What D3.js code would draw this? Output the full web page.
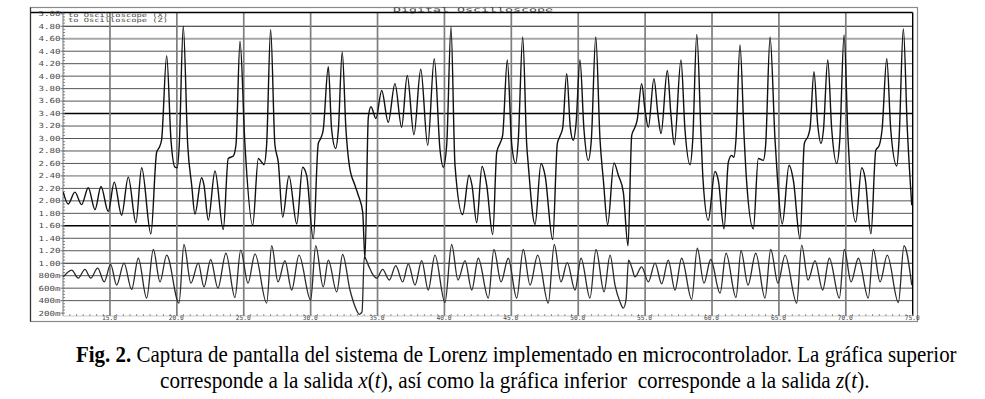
<!DOCTYPE html>
<html>
<head>
<meta charset="utf-8">
<script src="https://cdn.jsdelivr.net/npm/d3@7"></script>
<style>
  html, body { margin: 0; padding: 0; background: #fff; }
  svg { display: block; }
  .tiny { font-family: "DejaVu Sans Mono", monospace; fill: #4a4a4a; }
  .cap { font-family: "Liberation Serif", "Times New Roman", serif; fill: #000; white-space: pre; }
</style>
</head>
<body>
<svg id="chart" width="985" height="399"></svg>
<script>
/* Digital oscilloscope capture of the Lorenz system: x(t) on top, z(t) below. */

const T_START = 11.49, T_END = 75;
const xTicks = [15, 20, 25, 30, 35, 40, 45, 50, 55, 60, 65, 70, 75];
const xTickLabels = ["15.0", "20.0", "25.0", "30.0", "35.0", "40.0", "45.0", "50.0", "55.0", "60.0", "65.0", "70.0", "75.0"];
const yTicks = [5.0, 4.8, 4.6, 4.4, 4.2, 4.0, 3.8, 3.6, 3.4, 3.2, 3.0, 2.8, 2.6, 2.4, 2.2, 2.0, 1.8, 1.6, 1.4, 1.2, 1.0, 0.8, 0.6, 0.4, 0.2];
const yTickLabels = ["5.00", "4.80", "4.60", "4.40", "4.20", "4.00", "3.80", "3.60", "3.40", "3.20", "3.00", "2.80", "2.60", "2.40", "2.20", "2.00", "1.80", "1.60", "1.40", "1.20", "1.00", "800m", "600m", "400m", "200m"];
const seriesNames = ["to Oscilloscope (X)", "to Oscilloscope (Z)"];

// x(t) channel
const xT = [
  11.51, 11.88, 12.38, 12.88, 13.38, 13.88, 14.33, 14.87, 15.32, 15.87,
  16.37, 16.94, 17.37, 18.06, 18.49, 18.69, 18.86, 19.24, 19.56, 19.86,
  20.03, 20.18, 20.48, 20.81, 21.11, 21.35, 21.85, 22.03, 22.35, 22.85,
  23.47, 23.84, 24.22, 24.42, 24.72, 25.09, 25.67, 26.09, 26.34, 26.51,
  26.71, 27.01, 27.33, 27.58, 27.91, 28.38, 28.96, 29.40, 29.70, 30.20,
  30.57, 30.75, 30.94, 31.32, 31.57, 31.87, 32.07, 32.36, 32.64, 32.89,
  33.31, 33.56, 33.89, 34.06, 34.31, 34.51, 34.88, 35.31, 35.80, 36.30,
  36.80, 37.22, 37.72, 38.23, 38.75, 39.24, 39.67, 39.91, 40.17, 40.49,
  40.79, 41.36, 41.84, 42.06, 42.41, 42.81, 43.16, 43.61, 43.91, 44.15,
  44.35, 44.70, 45.03, 45.33, 45.52, 45.85, 46.15, 46.27, 46.77, 47.22,
  47.52, 48.09, 48.44, 48.64, 48.84, 49.14, 49.41, 49.63, 49.83, 50.13,
  50.43, 50.75, 50.98, 51.31, 51.63, 51.88, 52.20, 52.67, 53.00, 53.37,
  53.72, 54.00, 54.24, 54.41, 54.74, 54.99, 55.24, 55.66, 55.96, 56.19,
  56.66, 56.93, 57.18, 57.68, 57.98, 58.36, 58.56, 58.86, 59.18, 59.33,
  59.72, 60.22, 60.47, 60.90, 61.22, 61.47, 61.64, 61.79, 62.09, 62.41,
  62.58, 63.09, 63.46, 63.83, 64.01, 64.34, 64.71, 64.90, 65.25, 65.76,
  66.08, 66.58, 66.90, 67.20, 67.33, 67.62, 67.90, 68.15, 68.33, 68.65,
  68.95, 69.32, 69.55, 69.87, 70.17, 70.34, 70.74, 71.19, 71.44, 71.88,
  72.24, 72.50, 72.71, 73.06, 73.36, 73.81, 73.98, 74.30, 74.60, 74.93
];
const xV = [
  2.14, 1.95, 2.14, 1.94, 2.21, 1.86, 2.23, 1.83, 2.30, 1.77,
  2.38, 1.65, 2.53, 1.47, 2.78, 2.86, 2.98, 4.33, 2.98, 2.54,
  2.53, 2.90, 4.80, 2.90, 2.25, 1.79, 2.37, 2.25, 1.69, 2.48,
  1.54, 2.68, 2.72, 2.90, 4.56, 2.90, 1.61, 2.68, 2.62, 2.58,
  2.90, 4.75, 2.90, 2.62, 1.74, 2.40, 1.63, 2.54, 2.41, 1.39,
  2.92, 3.00, 3.14, 4.15, 3.14, 2.84, 3.14, 4.39, 3.14, 2.57,
  2.25, 2.09, 1.82, 1.07, 3.34, 3.51, 3.32, 3.77, 3.26, 3.88,
  3.18, 4.01, 3.06, 4.11, 2.89, 4.28, 2.82, 2.54, 2.90, 4.79,
  2.57, 1.78, 2.41, 2.25, 1.65, 2.55, 2.25, 1.46, 2.78, 2.92,
  3.05, 4.26, 2.90, 2.60, 2.98, 4.63, 2.90, 2.57, 1.62, 2.60,
  2.41, 1.38, 2.92, 3.04, 3.17, 4.04, 3.17, 2.97, 3.22, 4.26,
  3.14, 2.65, 2.98, 4.63, 2.98, 2.33, 1.62, 2.61, 2.41, 2.14,
  1.28, 3.05, 3.18, 3.30, 3.88, 3.46, 3.18, 3.96, 3.38, 3.08,
  4.09, 3.38, 2.90, 4.26, 3.14, 2.58, 2.98, 4.67, 3.05, 2.33,
  1.69, 2.47, 2.33, 1.55, 2.62, 2.73, 2.70, 2.98, 4.50, 2.98,
  2.33, 1.55, 2.68, 2.65, 2.90, 4.63, 2.98, 2.33, 1.63, 2.57,
  2.33, 1.39, 2.92, 3.05, 3.17, 4.07, 3.22, 2.92, 3.14, 4.26,
  3.14, 2.60, 2.98, 4.66, 2.98, 2.33, 1.66, 2.53, 2.37, 1.47,
  2.81, 2.89, 3.14, 4.28, 3.14, 2.56, 2.98, 4.76, 3.14, 1.93
];

// z(t) channel
const zT = [
  11.51, 12.14, 12.63, 13.13, 13.56, 14.08, 14.57, 15.05, 15.50, 16.05,
  16.62, 17.12, 17.74, 18.24, 18.74, 19.24, 20.16, 20.53, 21.05, 21.60,
  22.03, 22.53, 23.07, 23.67, 24.34, 24.77, 25.32, 25.84, 26.71, 27.09,
  27.56, 28.08, 28.58, 29.13, 30.00, 30.38, 30.94, 31.32, 31.95, 32.39,
  32.94, 33.31, 33.64, 33.84, 34.01, 34.31, 34.68, 34.94, 35.38, 35.88,
  36.36, 36.88, 37.30, 37.80, 38.30, 38.79, 39.29, 40.04, 40.54, 41.01,
  41.54, 42.04, 42.53, 43.28, 43.70, 44.23, 44.77, 45.40, 45.89, 46.40,
  46.97, 47.76, 48.21, 48.71, 49.18, 49.76, 50.21, 50.88, 51.33, 51.93,
  52.38, 52.75, 53.12, 53.37, 53.57, 53.76, 54.02, 54.24, 54.74, 55.24,
  55.74, 56.24, 56.73, 57.23, 57.73, 58.48, 58.90, 59.40, 59.90, 60.60,
  61.05, 61.79, 62.17, 62.69, 63.27, 63.96, 64.39, 64.93, 65.46, 66.33,
  66.70, 67.18, 67.70, 68.27, 68.77, 69.52, 69.89, 70.39, 70.94, 71.68,
  72.06, 72.56, 73.10, 73.93, 74.35, 74.93
];
const zV = [
  0.78, 0.89, 0.76, 0.90, 0.76, 0.92, 0.70, 0.98, 0.65, 1.00,
  0.58, 1.08, 0.44, 1.22, 0.70, 1.13, 0.36, 1.30, 0.68, 1.00,
  0.62, 1.06, 0.60, 1.16, 0.45, 1.21, 0.68, 1.15, 0.36, 1.28,
  0.70, 1.04, 0.57, 1.13, 0.41, 1.28, 0.62, 1.05, 0.54, 1.14,
  0.57, 0.31, 0.18, 0.22, 1.10, 0.97, 0.81, 0.76, 0.90, 0.73,
  0.96, 0.70, 0.99, 0.65, 1.04, 0.57, 1.13, 0.37, 1.30, 0.73,
  1.04, 0.57, 1.08, 0.44, 1.22, 0.70, 1.08, 0.44, 1.22, 0.65,
  1.13, 0.36, 1.30, 0.70, 1.01, 0.57, 1.08, 0.44, 1.22, 0.54,
  1.13, 0.65, 0.38, 0.28, 0.41, 1.05, 0.92, 0.78, 0.94, 0.70,
  1.00, 0.67, 1.05, 0.57, 1.08, 0.42, 1.24, 0.68, 1.06, 0.52,
  1.16, 0.45, 1.20, 0.65, 1.16, 0.44, 1.22, 0.68, 1.13, 0.36,
  1.29, 0.73, 1.04, 0.57, 1.08, 0.44, 1.22, 0.70, 1.08, 0.44,
  1.22, 0.70, 1.13, 0.37, 1.28, 0.65
];

const W = 985, H = 399;
const P = { l: 63, r: 912.7, t: 12.5, b: 316 };   // plot box inside the scope window
const F = { l: 30.5, r: 917.5, t: 7.5, b: 321.5 }; // window frame

const svg = d3.select("#chart");
svg.append("rect").attr("width", W).attr("height", H).attr("fill", "#fff");

const x = d3.scaleLinear().domain([T_START, T_END]).range([P.l, P.r]);
const y = d3.scaleLinear().domain([0.2, 5.0]).range([313.1, 13.8]);

// window frame + title
svg.append("rect").attr("x", F.l).attr("y", F.t).attr("width", F.r - F.l).attr("height", F.b - F.t)
  .attr("fill", "none").attr("stroke", "#8a8a8a").attr("stroke-width", 1.2);
svg.append("text").attr("class", "tiny").attr("x", 393).attr("y", 11.8)
  .attr("textLength", 160).attr("lengthAdjust", "spacingAndGlyphs")
  .style("font-size", "6.5px").text("Digital Oscilloscope");

// horizontal grid (a few lines render darker / lighter in the capture)
const hStyle = v => {
  const k = Math.round(v * 10);
  if (k === 34 || k === 16) return ["#000", 1.4];
  if (k === 48 || k === 10) return ["#222", 1.1];
  if (k === 46 || k === 24) return ["#a8a8a8", 1.8];
  return ["#555", 1];
};
svg.append("g").selectAll("line").data(yTicks.filter(v => v > 0.3 && v < 4.9)).join("line")
  .attr("x1", P.l).attr("x2", P.r).attr("y1", d => y(d)).attr("y2", d => y(d))
  .attr("stroke", d => hStyle(d)[0]).attr("stroke-width", d => hStyle(d)[1]);

// vertical grid
svg.append("g").selectAll("line").data(xTicks.filter(t => t < T_END)).join("line")
  .attr("x1", d => x(d)).attr("x2", d => x(d)).attr("y1", P.t).attr("y2", P.b)
  .attr("stroke", "#7e7e7e").attr("stroke-width", 1.7);

// plot borders
svg.append("line").attr("x1", F.l).attr("x2", P.r).attr("y1", P.t).attr("y2", P.t)
  .attr("stroke", "#000").attr("stroke-width", 1.6);
svg.append("line").attr("x1", P.r).attr("x2", P.r).attr("y1", P.t).attr("y2", P.b)
  .attr("stroke", "#000").attr("stroke-width", 1.4);
svg.append("line").attr("x1", F.l).attr("x2", F.l).attr("y1", F.t).attr("y2", F.b)
  .attr("stroke", "#333").attr("stroke-width", 1.2);
svg.append("line").attr("x1", P.l).attr("x2", P.l).attr("y1", P.t).attr("y2", P.b)
  .attr("stroke", "#777").attr("stroke-width", 1);
svg.append("line").attr("x1", P.l).attr("x2", P.r).attr("y1", P.b).attr("y2", P.b)
  .attr("stroke", "#bbb").attr("stroke-width", 0.8);

// axis ticks
const yMinor = d3.range(0.2, 5.001, 0.05);
svg.append("g").selectAll("line").data(yMinor).join("line")
  .attr("x1", P.l).attr("x2", P.l + 2).attr("y1", d => y(d)).attr("y2", d => y(d))
  .attr("stroke", "#666").attr("stroke-width", 0.8);
svg.append("g").selectAll("line").data(yTicks).join("line")
  .attr("x1", P.l - 2.5).attr("x2", P.l).attr("y1", d => y(d)).attr("y2", d => y(d))
  .attr("stroke", "#666").attr("stroke-width", 0.9);
const xMinor = d3.range(12, T_END + 0.01, 0.5);
svg.append("g").selectAll("line").data(xMinor).join("line")
  .attr("x1", d => x(d)).attr("x2", d => x(d)).attr("y1", P.b - 2).attr("y2", P.b)
  .attr("stroke", "#777").attr("stroke-width", 0.8);

// tick labels
svg.append("g").selectAll("text").data(yTicks).join("text").attr("class", "tiny")
  .attr("x", 38.5).attr("y", d => y(d) + 2.4)
  .attr("textLength", 22).attr("lengthAdjust", "spacingAndGlyphs")
  .style("font-size", "7px").text((d, i) => yTickLabels[i]);
svg.append("g").selectAll("text").data(xTicks).join("text").attr("class", "tiny")
  .attr("x", d => x(d) - 8).attr("y", 320.4)
  .attr("textLength", 15).attr("lengthAdjust", "spacingAndGlyphs")
  .style("font-size", "6.5px").text((d, i) => xTickLabels[i]);

// channel names
svg.append("g").selectAll("text").data(seriesNames).join("text").attr("class", "tiny")
  .attr("x", 68).attr("y", (d, i) => 17.2 + i * 5.2)
  .attr("textLength", 100).attr("lengthAdjust", "spacingAndGlyphs")
  .style("font-size", "5.8px").text(d => d);

// traces
svg.append("clipPath").attr("id", "plotclip").append("rect")
  .attr("x", P.l).attr("y", P.t).attr("width", P.r - P.l).attr("height", P.b - P.t);
const line = d3.line().x(d => x(d[0])).y(d => y(d[1])).curve(d3.curveMonotoneX);
const gTr = svg.append("g").attr("clip-path", "url(#plotclip)");
gTr.append("path").datum(zT.map((t, i) => [t, zV[i]]))
  .attr("d", line).attr("fill", "none").attr("stroke", "#2a2a2a").attr("stroke-width", 1.3);
gTr.append("path").datum(xT.map((t, i) => [t, xV[i]]))
  .attr("d", line).attr("fill", "none").attr("stroke", "#111").attr("stroke-width", 1.4);

// caption: condensed serif, squeezed horizontally to the printed width
function caption(x0, y0, width, parts) {
  const g = svg.append("g");
  const t = g.append("text").attr("class", "cap").attr("x", 0).attr("y", 0).style("font-size", "23px");
  parts.forEach(p => t.append("tspan")
    .style("font-weight", p[1] === "b" ? "bold" : "normal")
    .style("font-style", p[1] === "i" ? "italic" : "normal").text(p[0]));
  const len = t.node().getComputedTextLength();
  g.attr("transform", `translate(${x0},${y0}) scale(${width / len},1)`);
}
caption(76, 362, 881, [["Fig. 2.", "b"], [" Captura de pantalla del sistema de Lorenz implementado en microcontrolador. La gráfica superior", ""]]);
caption(160, 388, 710, [["corresponde a la salida ", ""], ["x", "i"], ["(", ""], ["t", "i"],
  ["), así como la gráfica inferior  corresponde a la salida ", ""], ["z", "i"], ["(", ""], ["t", "i"], [").", ""]]);
</script>
</body>
</html>
